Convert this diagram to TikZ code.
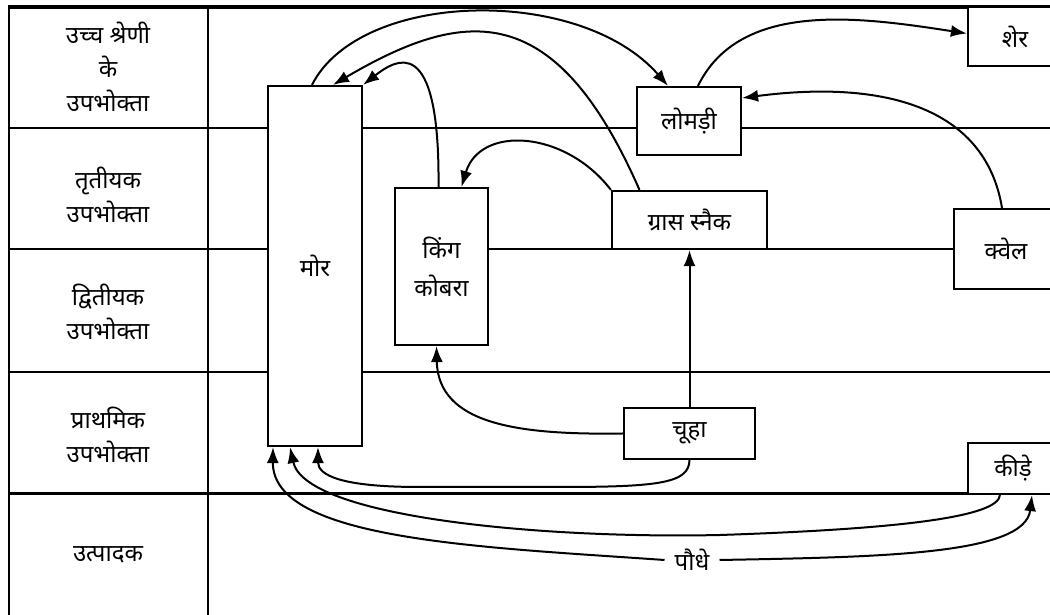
\documentclass[tikz,border=0pt]{standalone}
\usepackage{fontspec}
\newfontfamily\hindi[Script=Devanagari]{Noto Sans}
\usetikzlibrary{arrows.meta,positioning}

\begin{document}
\begin{tikzpicture}[
  x=1pt, y=1pt,
  box/.style={draw, line width=2.2pt, fill=white, inner sep=0pt, align=center, font=\hindi\fontsize{24}{38}\selectfont},
  lbl/.style={align=center, font=\hindi\fontsize{24}{34}\selectfont},
  lane/.style={line width=2.2pt},
  feeds/.style={line width=2pt, -{Latex[length=16pt,width=12pt]}}
]
\useasboundingbox (0,0) rectangle (1050,615);
\draw[line width=3.6pt] (8,608) -- (1050,608);
\draw[lane] (9,608) -- (9,0);
\draw[lane] (208,608) -- (208,0);
\draw[lane] (9,487) -- (1050,487);
\draw[line width=1.6pt] (9,366) -- (268,366) (488,366) -- (1050,366);
\draw[lane] (9,243) -- (1050,243);
\draw[line width=3pt] (9,121) -- (1050,121);
\node[lbl] (top) at (108,548) {उच्च श्रेणी\\के\\उपभोक्ता};
\node[lbl] (third) at (108,420) {तृतीयक\\उपभोक्ता};
\node[lbl] (second) at (108,303) {द्वितीयक\\उपभोक्ता};
\node[lbl] (first) at (108,180) {प्राथमिक\\उपभोक्ता};
\node[lbl] (prod) at (108,60) {उत्पादक};
\node[box, minimum width=94, minimum height=360] (mor) at (315,349) {मोर};
\node[box, minimum width=93, minimum height=157] (kobra) at (441.5,348.5) {किंग\\कोबरा};
\node[box, minimum width=104, minimum height=68] (lomdi) at (689,494) {लोमड़ी};
\node[box, minimum width=155, minimum height=58] (grass) at (689.5,395) {ग्रास स्नैक};
\node[box, minimum width=104, minimum height=80] (quail) at (1006,366) {क्वेल};
\node[box, minimum width=94, minimum height=59] (sher) at (1015,578.5) {शेर};
\node[box, minimum width=131, minimum height=51] (chuha) at (689.5,181.5) {चूहा};
\node[box, minimum width=90, minimum height=51] (kide) at (1013,146.5) {कीड़े};
\node[font=\hindi\fontsize{24}{28}\selectfont, inner xsep=10pt] (paudhe) at (692,55) {पौधे};
\draw[feeds] ([xshift=-3pt]mor.north) .. controls (360,625) and (580,630) .. ([xshift=-21pt]lomdi.north);
\draw[feeds] ([xshift=-50pt]grass.north) .. controls (556,615) and (467,609) .. ([xshift=18pt]mor.north);
\draw[feeds] ([xshift=-3pt]kobra.north) .. controls (440,585) and (395,555) .. (mor.north east);
\draw[feeds] (grass.north west) .. controls (565,485) and (480,490) .. ([xshift=20pt]kobra.north);
\draw[feeds] ([xshift=9pt]lomdi.north) .. controls (740,615) and (860,598) .. ([yshift=3pt]sher.west);
\draw[feeds] ([xshift=-4pt]quail.north) .. controls (985,510) and (880,535) .. ([yshift=23pt]lomdi.east);
\draw[feeds] (chuha.north) -- (grass.south);
\draw[feeds] (chuha.west) .. controls (520,180) and (438,190) .. ([xshift=-5pt]kobra.south);
\draw[feeds] (chuha.south) .. controls (689,132) and (660,128) .. (560,128) -- (420,128) .. controls (340,128) and (318,140) .. ([xshift=3pt]mor.south);
\draw[feeds] ([xshift=-13pt]kide.south) .. controls (998,98) and (900,86) .. (720,80) .. controls (540,76) and (305,98) .. ([xshift=-25pt]mor.south);
\draw[feeds] (paudhe.west) .. controls (480,68) and (272,75) .. ([xshift=-42pt]mor.south);
\draw[feeds] (paudhe.east) .. controls (880,58) and (1025,60) .. ([xshift=19pt]kide.south);
\end{tikzpicture}
\end{document}
